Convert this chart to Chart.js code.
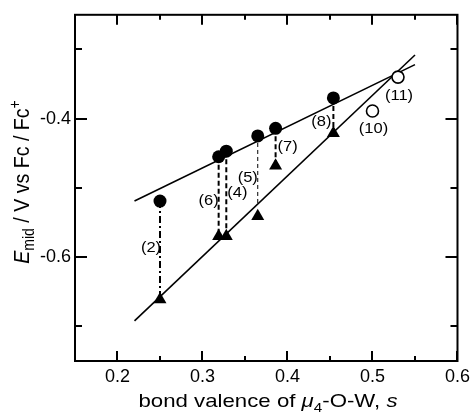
<!DOCTYPE html>
<html>
<head>
<meta charset="utf-8">
<script src="https://cdn.jsdelivr.net/npm/chart.js@4/dist/chart.umd.min.js"></script>
<style>
  html, body { margin: 0; padding: 0; background: #fff; }
  #wrap { width: 475px; height: 415px; }
</style>
</head>
<body>
<div id="wrap"><canvas id="chart" width="475" height="415"></canvas></div>
<script>
// ===== DATA =====
const pointLabels = ['(2)', '(6)', '(4)', '(5)', '(7)', '(8)'];
const sValues = [0.250, 0.319, 0.328, 0.365, 0.386, 0.454];
const eCircle = [-0.519, -0.455, -0.447, -0.425, -0.414, -0.370];
const eTriangle = [-0.661, -0.570, -0.570, -0.541, -0.468, -0.421];
const tieEnd = [-0.661, -0.570, -0.570, -0.522, -0.468, -0.421];

const openLabels = ['(10)', '(11)'];
const sOpen = [0.500, 0.530];
const eOpen = [-0.389, -0.340];

const fitX = [0.22, 0.55];
const fitUpper = [-0.519, -0.322];
const fitLower = [-0.692, -0.308];

const xMajor = [0.2, 0.3, 0.4, 0.5, 0.6];
const xMinor = [0.25, 0.35, 0.45, 0.55];
const yMajor = [-0.4, -0.6];
const yMinor = [-0.3, -0.5, -0.7];

// ===== STYLE =====
const FONT = '"Liberation Sans", Arial, Helvetica, sans-serif';
const tieDash = [[7, 3, 2, 3], [5, 3], [5, 3], [4, 3], [5, 3], [5, 3]];
const tieWidth = [2, 2, 2, 1, 2, 2];
const labelOff = [[-9, 47], [-10, 44], [11, 42], [-10, 42], [12, 19], [-12, 24]];
const openOff = [[1, 18], [1, 19]];

const pts = (xs, ys) => xs.map((x, i) => ({ x: x, y: ys[i] }));

const datasets = [
    { data: pts(sValues, eCircle), pointStyle: 'circle', pointRadius: 6.5,
      backgroundColor: '#000', borderColor: '#000', borderWidth: 0, order: 0 },
    { data: pts(sValues, eTriangle), pointStyle: 'triangle', pointRadius: 7.5,
      backgroundColor: '#000', borderColor: '#000', borderWidth: 0, order: 0 },
    { data: pts(sOpen, eOpen), pointStyle: 'circle', pointRadius: 6,
      backgroundColor: '#fff', borderColor: '#000', borderWidth: 1.6, order: 0 },
    { data: pts(fitX, fitUpper), showLine: true, pointRadius: 0,
      borderColor: '#000', borderWidth: 1.6, order: 1 },
    { data: pts(fitX, fitLower), showLine: true, pointRadius: 0,
      borderColor: '#000', borderWidth: 1.6, order: 1 }
];
sValues.forEach((s, i) => {
    datasets.push({
        data: [{ x: s, y: eCircle[i] }, { x: s, y: tieEnd[i] }],
        showLine: true, pointRadius: 0, borderColor: '#000',
        borderWidth: tieWidth[i], borderDash: tieDash[i], order: 2
    });
});

// ===== OVERLAY: frame, inward ticks, point labels, axis titles =====
function drawRich(ctx, parts, size) {
    // parts: [text, style] where style: '' | 'i' | 'sub' | 'sup'; centred on 0, baseline 0
    const fontOf = p => {
        const small = p[1] === 'sub' || p[1] === 'sup';
        const sz = small ? Math.round(size * 0.7) : size;
        return (p[1] === 'i' ? 'italic ' : '') + sz + 'px ' + FONT;
    };
    let total = 0;
    parts.forEach(p => { ctx.font = fontOf(p); total += ctx.measureText(p[0]).width; });
    let cx = -total / 2;
    ctx.textAlign = 'left';
    ctx.textBaseline = 'alphabetic';
    parts.forEach(p => {
        ctx.font = fontOf(p);
        let dy = 0;
        if (p[1] === 'sub') dy = size * 0.25;
        if (p[1] === 'sup') dy = -size * 0.4;
        ctx.fillText(p[0], cx, dy);
        cx += ctx.measureText(p[0]).width;
    });
}

const overlay = {
    id: 'overlay',
    afterDraw(chart) {
        const { ctx, chartArea: a, scales: { x, y } } = chart;
        ctx.save();
        ctx.strokeStyle = '#000';
        ctx.fillStyle = '#000';
        ctx.lineWidth = 2;
        ctx.strokeRect(a.left, a.top, a.right - a.left, a.bottom - a.top);

        ctx.beginPath();
        const xt = (v, len) => {
            const px = Math.round(x.getPixelForValue(v));
            ctx.moveTo(px, a.bottom); ctx.lineTo(px, a.bottom - len);
            ctx.moveTo(px, a.top); ctx.lineTo(px, a.top + len);
        };
        const yt = (v, len) => {
            const py = Math.round(y.getPixelForValue(v));
            ctx.moveTo(a.left, py); ctx.lineTo(a.left + len, py);
            ctx.moveTo(a.right, py); ctx.lineTo(a.right - len, py);
        };
        xMajor.forEach(v => xt(v, 10));
        xMinor.forEach(v => xt(v, 5));
        yMajor.forEach(v => yt(v, 12));
        yMinor.forEach(v => yt(v, 7));
        ctx.stroke();

        const tag = (t, px, py) => {
            ctx.save();
            ctx.translate(px, py);
            ctx.scale(1.1, 1);
            ctx.font = '15px ' + FONT;
            ctx.textAlign = 'center';
            ctx.textBaseline = 'middle';
            ctx.fillText(t, 0, 0);
            ctx.restore();
        };
        pointLabels.forEach((t, i) => {
            tag(t, x.getPixelForValue(sValues[i]) + labelOff[i][0],
                   y.getPixelForValue(eCircle[i]) + labelOff[i][1]);
        });
        openLabels.forEach((t, i) => {
            tag(t, x.getPixelForValue(sOpen[i]) + openOff[i][0],
                   y.getPixelForValue(eOpen[i]) + openOff[i][1]);
        });

        // x title
        ctx.save();
        ctx.translate(268, 407);
        ctx.scale(1.17, 1);
        drawRich(ctx, [['bond valence of ', ''], ['\u03bc', 'i'], ['4', 'sub'],
                       ['-O-W, ', ''], ['s', 'i']], 19);
        ctx.restore();
        // y title
        ctx.save();
        ctx.translate(29, 182);
        ctx.scale(1.12, 1);
        ctx.rotate(-Math.PI / 2);
        drawRich(ctx, [['E', 'i'], ['mid', 'sub'], [' / V vs Fc / Fc', ''], ['+', 'sup']], 19.6);
        ctx.restore();
        ctx.restore();
    }
};

new Chart(document.getElementById('chart'), {
    type: 'scatter',
    data: { datasets: datasets },
    options: {
        responsive: false,
        animation: false,
        events: [],
        layout: { padding: { top: 13, right: 13, left: 0, bottom: 0 } },
        plugins: { legend: { display: false }, tooltip: { enabled: false } },
        scales: {
            x: {
                type: 'linear', min: 0.15, max: 0.6,
                afterBuildTicks: s => { s.ticks = xMajor.map(v => ({ value: v })); },
                afterFit: s => { s.height = 54; },
                grid: { display: false, drawTicks: false },
                border: { display: false },
                ticks: { color: '#000', font: { family: FONT, size: 18 }, padding: 5,
                         maxRotation: 0, callback: v => v.toFixed(1) }
            },
            y: {
                type: 'linear', min: -0.75, max: -0.25,
                afterBuildTicks: s => { s.ticks = yMajor.map(v => ({ value: v })); },
                afterFit: s => { s.width = 75; },
                grid: { display: false, drawTicks: false },
                border: { display: false },
                ticks: { color: '#000', font: { family: FONT, size: 18 }, padding: 4,
                         callback: v => v.toFixed(1) }
            }
        }
    },
    plugins: [overlay]
});
</script>
</body>
</html>
